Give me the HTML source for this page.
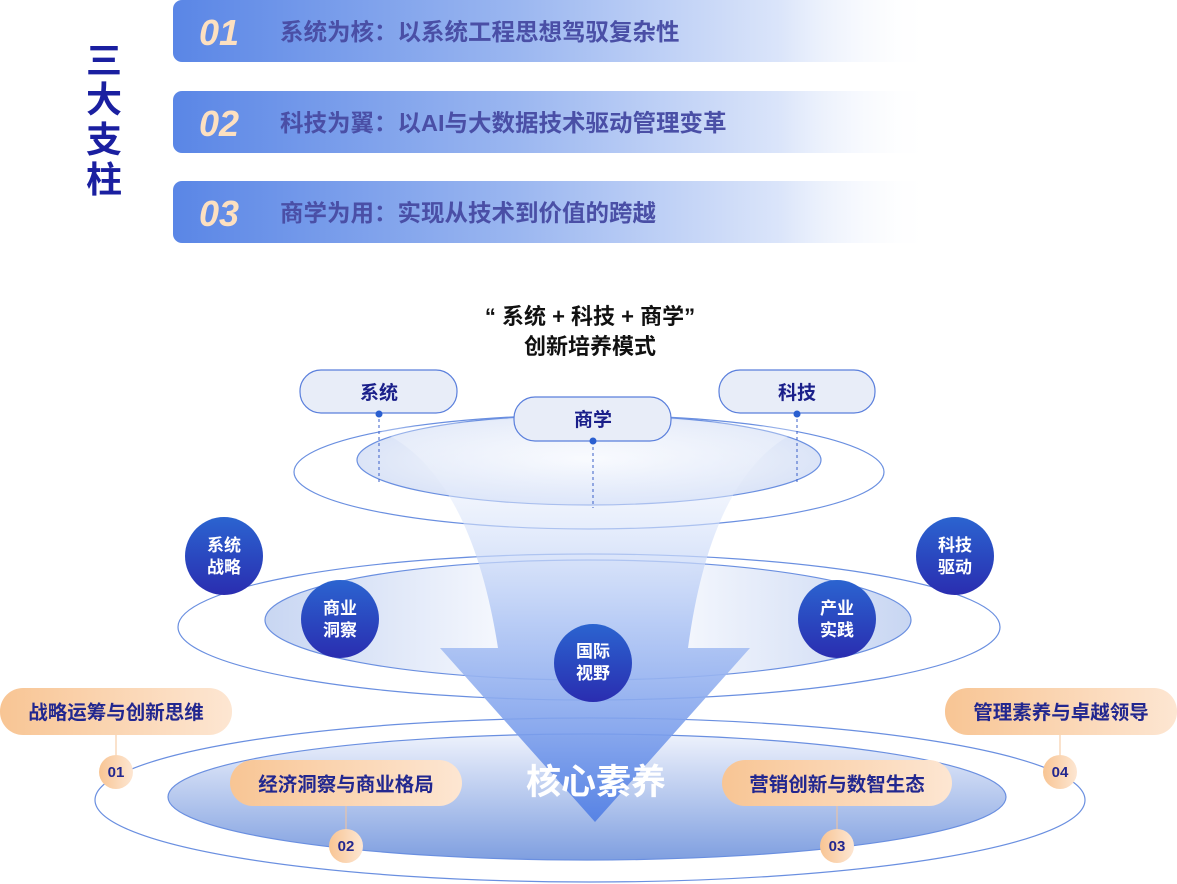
<!DOCTYPE html>
<html><head><meta charset="utf-8"><style>
html,body{margin:0;padding:0;background:#fff;width:1177px;height:884px;overflow:hidden}
svg{display:block;font-family:"Liberation Sans","Noto Sans CJK SC",sans-serif;font-weight:bold}
</style></head><body>
<svg width="1177" height="884" viewBox="0 0 1177 884" xmlns="http://www.w3.org/2000/svg">
<defs>
<linearGradient id="bar" x1="0" x2="1" y1="0" y2="0">
<stop offset="0" stop-color="#5a86e6"/><stop offset="0.45" stop-color="#9ab6f0"/><stop offset="0.8" stop-color="#dbe5fa"/><stop offset="1" stop-color="#ffffff" stop-opacity="0"/></linearGradient>
<linearGradient id="fun" x1="0" x2="0" y1="0" y2="1">
<stop offset="0" stop-color="#ffffff" stop-opacity="0.3"/><stop offset="0.5" stop-color="#b4c9f5"/><stop offset="1" stop-color="#4f7de4"/></linearGradient>
<linearGradient id="circ" x1="0" x2="0" y1="0" y2="1">
<stop offset="0" stop-color="#2b64d0"/><stop offset="1" stop-color="#2a2db0"/></linearGradient>
<linearGradient id="org" x1="0" x2="1" y1="0" y2="0">
<stop offset="0" stop-color="#f8c594"/><stop offset="1" stop-color="#fde6d2"/></linearGradient>
<radialGradient id="ell1" cx="0.5" cy="0.5" r="0.5">
<stop offset="0" stop-color="#ffffff"/><stop offset="1" stop-color="#dbe4f7"/></radialGradient>
<linearGradient id="ell2" x1="0" x2="1" y1="0" y2="0">
<stop offset="0" stop-color="#c8d6f2"/><stop offset="0.35" stop-color="#f3f6fd"/><stop offset="0.65" stop-color="#f3f6fd"/><stop offset="1" stop-color="#c8d6f2"/></linearGradient>
<linearGradient id="ell3" x1="0" x2="0" y1="0" y2="1">
<stop offset="0" stop-color="#eef2fc"/><stop offset="1" stop-color="#7f9fe0"/></linearGradient>
</defs>

<rect x="173" y="0" width="760" height="62" rx="9" fill="url(#bar)"/>
<rect x="173" y="91" width="760" height="62" rx="9" fill="url(#bar)"/>
<rect x="173" y="181" width="760" height="62" rx="9" fill="url(#bar)"/>
<g font-style="italic" font-size="36" fill="#fde0c0">
<text x="199" y="45">01</text><text x="199" y="136">02</text><text x="199" y="226">03</text></g>
<g font-size="23.5" fill="#4a4fa6">
<text x="280" y="40">系统为核：以系统工程思想驾驭复杂性</text>
<text x="280" y="131">科技为翼：以AI与大数据技术驱动管理变革</text>
<text x="280" y="221">商学为用：实现从技术到价值的跨越</text></g>
<g font-size="36" fill="#1a1fa0" text-anchor="middle">
<text x="104" y="73">三</text><text x="104" y="112">大</text><text x="104" y="152">支</text><text x="104" y="192">柱</text></g>

<g font-size="22" fill="#111" text-anchor="middle">
<text x="590" y="324">“ 系统 + 科技 + 商学”</text>
<text x="590" y="354">创新培养模式</text></g>

<ellipse cx="590" cy="800" rx="495" ry="82" fill="none" stroke="#6a8fe0" stroke-width="1.2"/>
<ellipse cx="587" cy="797" rx="419" ry="63" fill="url(#ell3)" stroke="#6a8fe0" stroke-width="1.2"/>
<ellipse cx="589" cy="627" rx="411" ry="73" fill="none" stroke="#6a8fe0" stroke-width="1.2"/>
<ellipse cx="588" cy="620" rx="323" ry="60" fill="url(#ell2)" stroke="#6a8fe0" stroke-width="1.2"/>
<ellipse cx="589" cy="472" rx="295" ry="57" fill="none" stroke="#6a8fe0" stroke-width="1.2"/>
<ellipse cx="589" cy="460" rx="232" ry="45" fill="url(#ell1)" stroke="#6a8fe0" stroke-width="1.2"/>

<path d="M378 430 Q470 470 498 648 L440 648 L595 822 L750 648 L688 648 Q712 470 800 430 Q590 405 378 430 Z" fill="url(#fun)" opacity="0.9"/>

<g fill="#e8edf8" stroke="#5a7fdc" stroke-width="1.2">
<rect x="300" y="370" width="157" height="43" rx="21"/>
<rect x="514" y="397" width="157" height="44" rx="21"/>
<rect x="719" y="370" width="156" height="43" rx="21"/></g>
<g stroke="#3a5fc8" stroke-dasharray="3,3" stroke-width="1">
<line x1="379" y1="413" x2="379" y2="484"/><line x1="593" y1="441" x2="593" y2="508"/><line x1="797" y1="413" x2="797" y2="484"/></g>
<g fill="#2a5fd0"><circle cx="379" cy="414" r="3.5"/><circle cx="593" cy="441" r="3.5"/><circle cx="797" cy="414" r="3.5"/></g>
<g font-size="19" fill="#1a1f8a" text-anchor="middle">
<text x="379" y="399">系统</text><text x="593" y="426">商学</text><text x="797" y="399">科技</text></g>

<g fill="url(#circ)">
<circle cx="224" cy="556" r="39"/><circle cx="955" cy="556" r="39"/>
<circle cx="340" cy="619" r="39"/><circle cx="837" cy="619" r="39"/>
<circle cx="593" cy="663" r="39"/></g>
<g font-size="17" fill="#fff" text-anchor="middle">
<text x="224" y="551">系统</text><text x="224" y="573">战略</text>
<text x="955" y="551">科技</text><text x="955" y="573">驱动</text>
<text x="340" y="614">商业</text><text x="340" y="636">洞察</text>
<text x="837" y="614">产业</text><text x="837" y="636">实践</text>
<text x="593" y="657">国际</text><text x="593" y="679">视野</text></g>

<text x="596" y="794" font-size="35" fill="#fff" text-anchor="middle">核心素养</text>

<g stroke="#f5c49a" stroke-width="1">
<line x1="116" y1="735" x2="116" y2="760"/><line x1="1060" y1="735" x2="1060" y2="760"/>
<line x1="346" y1="806" x2="346" y2="834"/><line x1="837" y1="806" x2="837" y2="834"/></g>
<g fill="url(#org)">
<rect x="0" y="688" width="232" height="47" rx="23"/>
<rect x="945" y="688" width="232" height="47" rx="23"/>
<rect x="230" y="760" width="232" height="46" rx="23"/>
<rect x="722" y="760" width="230" height="46" rx="23"/>
<circle cx="116" cy="772" r="17"/><circle cx="1060" cy="772" r="17"/>
<circle cx="346" cy="846" r="17"/><circle cx="837" cy="846" r="17"/></g>
<g font-size="19.5" fill="#22278f" text-anchor="middle">
<text x="116" y="719">战略运筹与创新思维</text>
<text x="1061" y="719">管理素养与卓越领导</text>
<text x="346" y="791">经济洞察与商业格局</text>
<text x="837" y="791">营销创新与数智生态</text></g>
<g font-size="15" fill="#22278f" text-anchor="middle">
<text x="116" y="777">01</text><text x="1060" y="777">04</text>
<text x="346" y="851">02</text><text x="837" y="851">03</text></g>
</svg>
</body></html>
